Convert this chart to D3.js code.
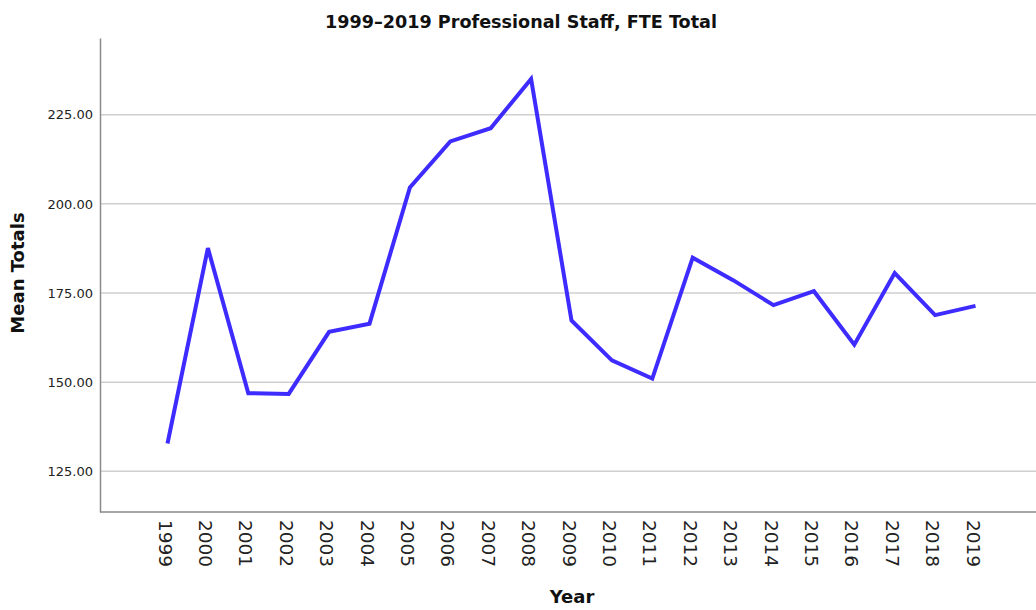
<!DOCTYPE html>
<html>
<head>
<meta charset="utf-8">
<script src="https://cdn.jsdelivr.net/npm/d3@7"></script>
<style>
  html, body { margin: 0; padding: 0; background: #fff; }
  svg { display: block; }
</style>
</head>
<body>
<svg id="chart" width="1036" height="610"></svg>
<script>
const years = ["1999","2000","2001","2002","2003","2004","2005","2006","2007","2008","2009","2010","2011","2012","2013","2014","2015","2016","2017","2018","2019"];
const meanTotals = [132.8,187.6,146.9,146.7,164.1,166.4,204.6,217.5,221.2,235.0,167.3,156.1,151.0,184.9,178.6,171.6,175.5,160.5,180.6,168.8,171.4];
const yTicks = [125,150,175,200,225];
const titleText = "1999\u20132019 Professional Staff, FTE Total";
const xTitle = "Year";
const yTitle = "Mean Totals";

const svg = d3.select("#chart");
const plotLeft = 100, plotRight = 1036, plotTop = 38, plotBottom = 512;

const x = d3.scalePoint().domain(years).range([167.5, 975.5]);
const y = d3.scaleLinear().domain([113.6, 246.5]).range([plotBottom, plotTop]);

// gridlines
svg.append("g")
  .selectAll("line")
  .data(yTicks)
  .join("line")
  .attr("x1", plotLeft).attr("x2", plotRight)
  .attr("y1", d => y(d)).attr("y2", d => y(d))
  .attr("stroke", "#cfcfcf").attr("stroke-width", 1.5);

// y axis
const yAxis = d3.axisLeft(y).tickValues(yTicks).tickFormat(d3.format(".2f")).tickSize(0).tickPadding(7);
const gy = svg.append("g").attr("transform", `translate(${plotLeft},0)`).call(yAxis);
gy.select(".domain").attr("stroke", "#8a8a8a").attr("stroke-width", 1.5);
gy.selectAll("text").attr("font-family", "DejaVu Sans, sans-serif").attr("font-size", 13).attr("fill", "#222");

// x axis
const xAxis = d3.axisBottom(x).tickSize(0).tickPadding(0);
const gx = svg.append("g").attr("transform", `translate(0,${plotBottom})`).call(xAxis);
gx.select(".domain").attr("d", `M${plotLeft},0H${plotRight}`)
  .attr("stroke", "#8a8a8a").attr("stroke-width", 1.5);
gx.selectAll("text")
  .attr("font-family", "DejaVu Sans, sans-serif").attr("font-size", 18.5).attr("fill", "#222")
  .attr("text-anchor", "start")
  .attr("dy", null).attr("y", 0)
  .attr("transform", "translate(-3,8) rotate(90)")
  .attr("dominant-baseline", "central");

// line
const line = d3.line().x((d, i) => x(years[i])).y(d => y(d));
svg.append("path")
  .datum(meanTotals)
  .attr("d", line)
  .attr("fill", "none")
  .attr("stroke", "#3d2bff")
  .attr("stroke-width", 4)
  .attr("stroke-linejoin", "miter");

// title
svg.append("text")
  .attr("x", 521).attr("y", 28)
  .attr("text-anchor", "middle")
  .attr("font-family", "DejaVu Sans, sans-serif").attr("font-weight", "bold").attr("font-size", 17.6)
  .attr("fill", "#111")
  .text(titleText);

// axis titles
svg.append("text")
  .attr("x", 572).attr("y", 603)
  .attr("text-anchor", "middle")
  .attr("font-family", "DejaVu Sans, sans-serif").attr("font-weight", "bold").attr("font-size", 18)
  .attr("fill", "#111")
  .text(xTitle);

svg.append("text")
  .attr("transform", "translate(24,273) rotate(-90)")
  .attr("text-anchor", "middle")
  .attr("font-family", "DejaVu Sans, sans-serif").attr("font-weight", "bold").attr("font-size", 18)
  .attr("fill", "#111")
  .text(yTitle);
</script>
</body>
</html>
